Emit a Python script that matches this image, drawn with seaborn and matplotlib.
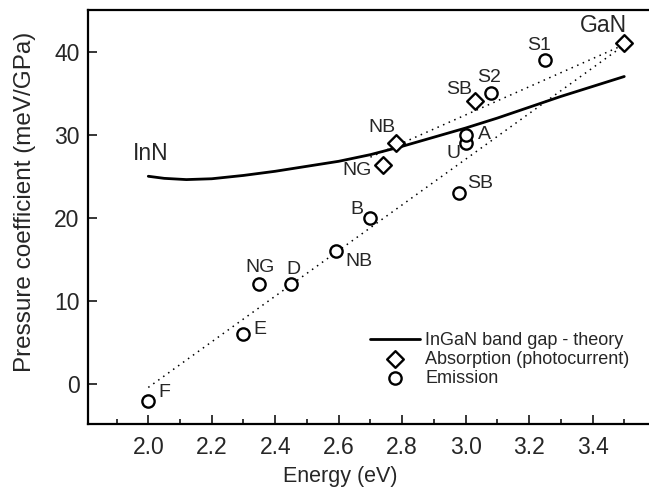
import matplotlib
matplotlib.use("Agg")
import matplotlib.pyplot as plt
import seaborn as sns
import pandas as pd
from matplotlib.ticker import MultipleLocator

# Emission peaks (circles)
em_energy = [2.00, 2.30, 2.35, 2.45, 2.59, 2.70, 2.98, 3.00, 3.00, 3.08, 3.25]
em_coef = [-2.0, 6.0, 12.0, 12.0, 16.0, 20.0, 23.0, 29.0, 30.0, 35.0, 39.0]
em_names = ["F", "E", "NG", "D", "NB", "B", "SB", "U", "A", "S2", "S1"]

# Absorption / photocurrent (diamonds)
ab_energy = [2.74, 2.78, 3.03, 3.50]
ab_coef = [26.3, 29.0, 34.0, 41.0]
ab_names = ["NG", "NB", "SB", "GaN"]

# InGaN band gap - theory
th_energy = [2.00, 2.05, 2.12, 2.20, 2.30, 2.40, 2.50, 2.60, 2.70, 2.80,
             2.90, 3.00, 3.10, 3.20, 3.30, 3.40, 3.50]
th_coef = [25.0, 24.75, 24.6, 24.7, 25.1, 25.6, 26.2, 26.8, 27.6, 28.6,
           29.7, 30.8, 32.0, 33.3, 34.6, 35.8, 37.0]

# Dotted guide lines (end points)
guide_lower_x = [2.00, 3.49]
guide_lower_y = [-0.4, 40.5]
guide_upper_x = [2.70, 3.48]
guide_upper_y = [27.3, 40.5]

sns.set_style("ticks")
plt.rcParams["font.family"] = ["Liberation Sans", "DejaVu Sans"]

fig = plt.figure(figsize=(6.49, 4.95), dpi=100)
ax = fig.add_axes([88 / 649, 71 / 495, (656 - 88) / 649, (485 - 71) / 495])

df_th = pd.DataFrame({"E": th_energy, "P": th_coef})
df_em = pd.DataFrame({"E": em_energy, "P": em_coef})
df_ab = pd.DataFrame({"E": ab_energy, "P": ab_coef})

ax.plot(guide_lower_x, guide_lower_y, color="black", ls=(0, (1, 3)), lw=1.1)
ax.plot(guide_upper_x, guide_upper_y, color="black", ls=(0, (1, 3)), lw=1.1)

sns.lineplot(data=df_th, x="E", y="P", color="black", lw=2.0, ax=ax,
             label="InGaN band gap - theory", sort=False)
sns.scatterplot(data=df_ab, x="E", y="P", marker="D", s=72, facecolor="white",
                edgecolor="black", linewidth=1.7, ax=ax,
                label="Absorption (photocurrent)", zorder=3)
sns.scatterplot(data=df_em, x="E", y="P", marker="o", s=78, facecolor="white",
                edgecolor="black", linewidth=1.7, ax=ax, label="Emission",
                zorder=3)

# label offsets in points
em_off = [(11.5, 5.8), (11.5, 3.6), (0.7, 12.2), (2, 10.8), (16.6, -7.2),
          (-9.4, 5.8), (15, 6.5), (-8.6, -7.2), (13.7, 0), (-1.4, 11.5),
          (-4.3, 10)]
ab_off = [(-18.7, -3.6), (-10, 11.5), (-11.5, 8.6), (-15, 13)]

for x, y, t, o in zip(em_energy, em_coef, em_names, em_off):
    ax.annotate(t, (x, y), xytext=o, textcoords="offset points",
                ha="center", va="center", fontsize=14)
for x, y, t, o in zip(ab_energy, ab_coef, ab_names, ab_off):
    ax.annotate(t, (x, y), xytext=o, textcoords="offset points",
                ha="center", va="center", fontsize=16.5 if t == "GaN" else 14)
ax.annotate("InN", (th_energy[0], th_coef[0]), xytext=(1.4, 16.5),
            textcoords="offset points", ha="center", va="center",
            fontsize=16.5)

ax.set_xlim(1.81, 3.60)
ax.set_ylim(-4.8, 45)
ax.xaxis.set_major_locator(MultipleLocator(0.2))
ax.xaxis.set_minor_locator(MultipleLocator(0.1))
ax.yaxis.set_major_locator(MultipleLocator(10))
ax.set_xticks([2.0, 2.2, 2.4, 2.6, 2.8, 3.0, 3.2, 3.4])
ax.set_xticklabels(["2.0", "2.2", "2.4", "2.6", "2.8", "3.0", "3.2", "3.4"])
ax.tick_params(direction="in", which="major", length=6.5, width=1.3,
               labelsize=16.5, pad=9)
ax.tick_params(direction="in", which="minor", length=3.5, width=1.3)
ax.tick_params(axis="y", pad=6)

ax.set_xlabel("Energy (eV)", fontsize=15.5)
ax.set_ylabel("Pressure coefficient (meV/GPa)", fontsize=17.5)
ax.xaxis.set_label_coords((340 - 88) / 568, -(466 - 424) / 414)
ax.yaxis.set_label_coords(-(88 - 36) / 568, (424 - 202) / 414)

for s in ["left", "bottom", "top", "right"]:
    ax.spines[s].set_linewidth(1.6)
    ax.spines[s].set_color("black")

h, l = ax.get_legend_handles_labels()
order = [l.index("InGaN band gap - theory"), l.index("Absorption (photocurrent)"),
         l.index("Emission")]
leg = ax.legend([h[i] for i in order], [l[i] for i in order],
                loc="upper left", bbox_to_anchor=(370 / 649, 1 - 332 / 495),
                bbox_transform=fig.transFigure, frameon=False, fontsize=13,
                handlelength=2.75, handletextpad=0.3, labelspacing=0.1,
                borderpad=0, borderaxespad=0)

fig.savefig("out.png", dpi=100)
